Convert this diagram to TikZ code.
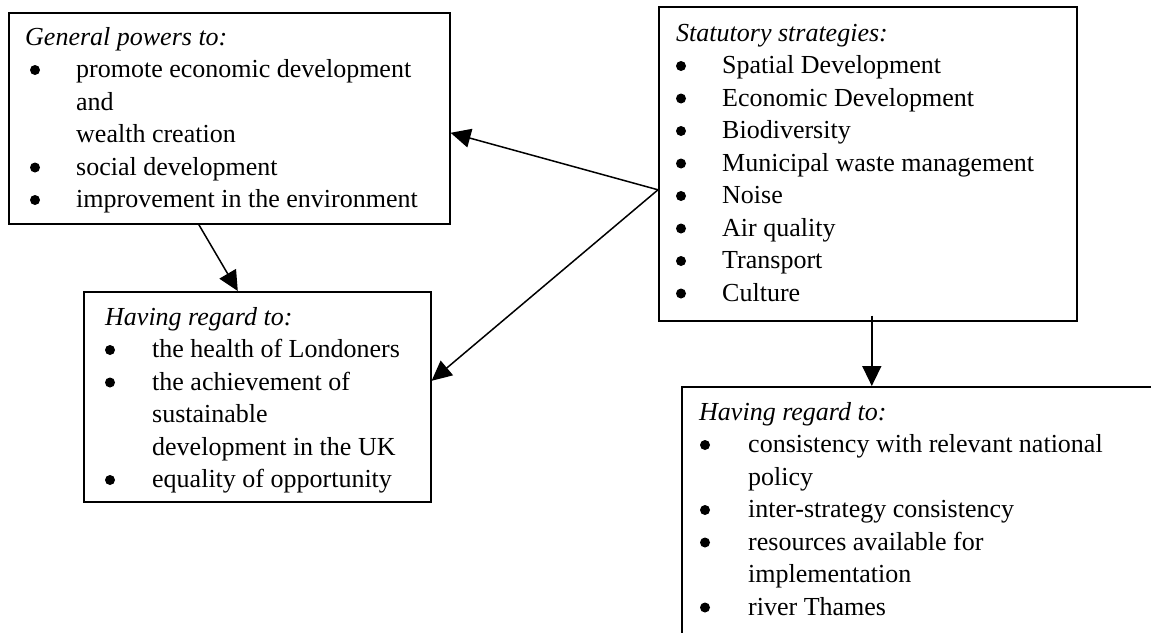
\documentclass[tikz,border=0pt]{standalone}
\usepackage{fontspec}
\setmainfont{Liberation Serif}
\usetikzlibrary{arrows.meta}
\begin{document}
\begin{tikzpicture}[x=1pt,y=-1pt,
  box/.style={draw, line width=1.6pt, rectangle, inner sep=0pt, anchor=north west},
  txt/.style={anchor=base west, inner sep=0pt, font=\fontsize{26}{32.5}\selectfont},
  head/.style={anchor=base west, inner sep=0pt, font=\fontsize{26}{32.5}\selectfont\itshape},
  dot/.style={circle, fill, inner sep=0pt, minimum size=10pt, yshift=7.5pt},
  link/.style={line width=1.5pt, -{Triangle[length=20pt,width=19pt]}}]
\useasboundingbox (0,0) rectangle (1151,632);
\clip (0,0) rectangle (1151,632);

% boxes
\node[box, minimum width=441pt, minimum height=211pt] (b1) at (8,12) {};
\node[box, minimum width=347pt, minimum height=210pt] (b2) at (83,291) {};
\node[box, minimum width=418pt, minimum height=314pt] (b3) at (658,6) {};
\node[box, minimum width=600pt, minimum height=400pt] (b4) at (681,386) {};

% general powers
\node[head] (b1h) at (25,45) {General powers to:};
\node[dot] (b1d1) at (35,77.5) {};
\node[txt] (b1t1) at (76,77.5) {promote economic development};
\node[txt] (b1t2) at (76,110) {and};
\node[txt] (b1t3) at (76,142.5) {wealth creation};
\node[dot] (b1d4) at (35,175) {};
\node[txt] (b1t4) at (76,175) {social development};
\node[dot] (b1d5) at (35,207.5) {};
\node[txt] (b1t5) at (76,207.5) {improvement in the environment};

% having regard to (left)
\node[head] (b2h) at (105,325) {Having regard to:};
\node[dot] (b2d1) at (110,357.5) {};
\node[txt] (b2t1) at (152,357.5) {the health of Londoners};
\node[dot] (b2d2) at (110,390) {};
\node[txt] (b2t2) at (152,390) {the achievement of};
\node[txt] (b2t3) at (152,422.5) {sustainable};
\node[txt] (b2t4) at (152,455) {development in the UK};
\node[dot] (b2d5) at (110,487.5) {};
\node[txt] (b2t5) at (152,487.5) {equality of opportunity};

% statutory strategies
\node[head] (b3h) at (676,41) {Statutory strategies:};
\foreach \s [count=\i] in {Spatial Development, Economic Development, Biodiversity,
    Municipal waste management, Noise, Air quality, Transport, Culture}{
  \node[dot] (b3d\i) at (681,41+32.5*\i) {};
  \node[txt] (b3t\i) at (722,41+32.5*\i) {\s};
}

% having regard to (right)
\node[head] (b4h) at (699,420) {Having regard to:};
\node[dot] (b4d1) at (705,452.5) {};
\node[txt] (b4t1) at (748,452.5) {consistency with relevant national};
\node[txt] (b4t2) at (748,485) {policy};
\node[dot] (b4d3) at (705,517.5) {};
\node[txt] (b4t3) at (748,517.5) {inter-strategy consistency};
\node[dot] (b4d4) at (705,550) {};
\node[txt] (b4t4) at (748,550) {resources available for};
\node[txt] (b4t5) at (748,582.5) {implementation};
\node[dot] (b4d6) at (705,615) {};
\node[txt] (b4t6) at (748,615) {river Thames};

% connectors
\draw[link] ([yshift=-26pt]b3.west) -- ([yshift=-14.5pt]b1.east);
\draw[link] ([yshift=-26pt]b3.west) -- ([yshift=16pt]b2.east);
\draw[link] ([xshift=-30.5pt]b1.south) -- ([xshift=-19.5pt]b2.north);
\draw[link] ([xshift=4pt,yshift=6pt]b3.south) coordinate (s) -- (s |- b4.north);
\end{tikzpicture}
\end{document}
